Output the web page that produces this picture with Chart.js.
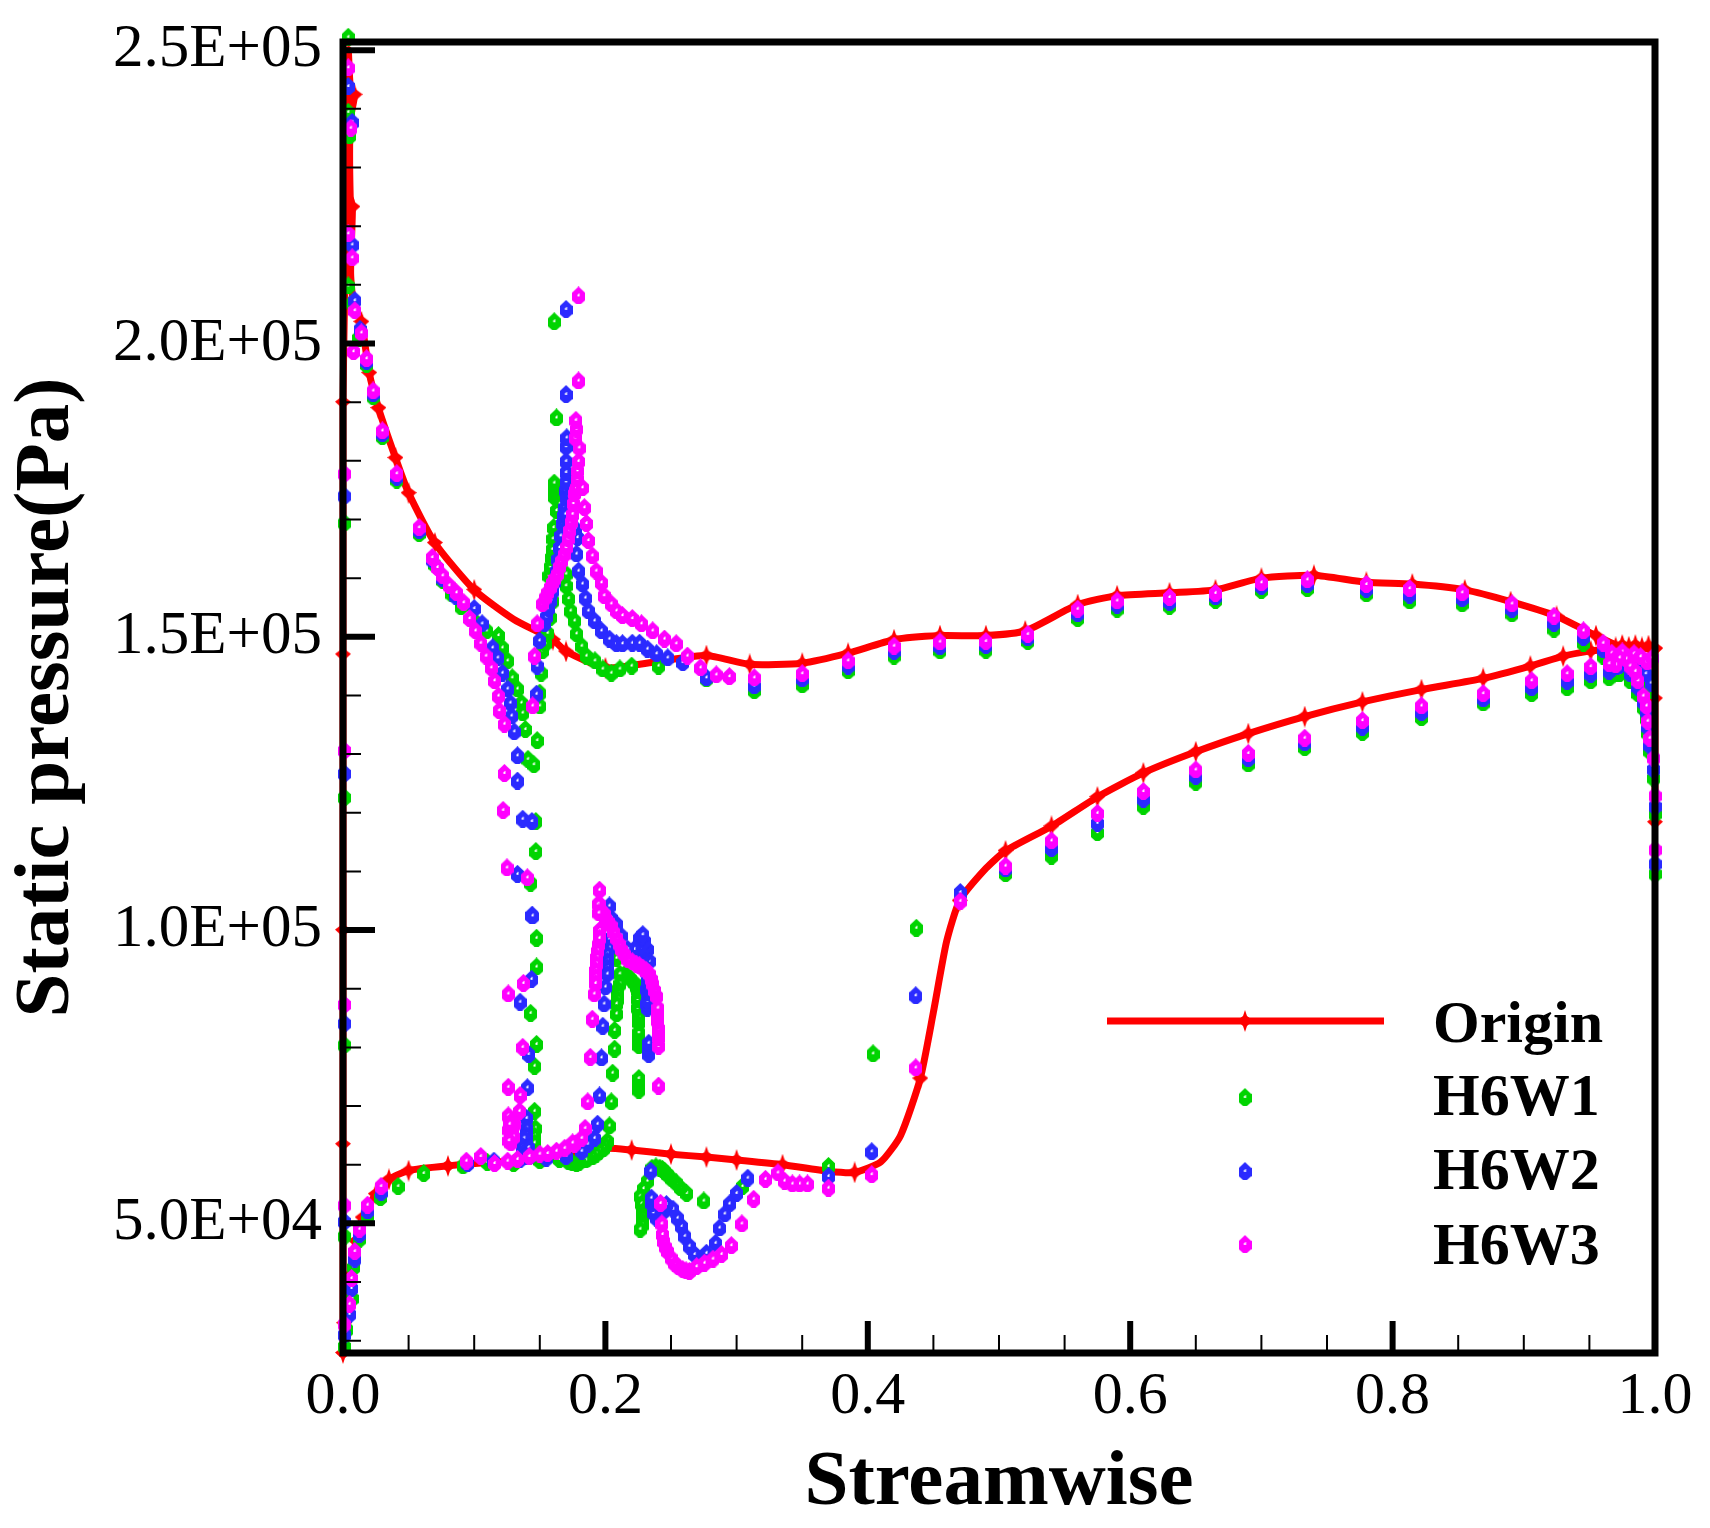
<!DOCTYPE html>
<html>
<head>
<meta charset="utf-8">
<title>Static pressure</title>
<script src="https://cdn.jsdelivr.net/npm/chart.js@4"></script>
<style>
html,body{margin:0;padding:0;background:#fff}
canvas{display:block}
</style>
</head>
<body>
<canvas id="chart" width="1710" height="1528"></canvas>
<script>
var xTicks = [0,0.2,0.4,0.6,0.8,1.0];
var xMinorTicks = [0.05,0.1,0.15,0.25,0.3,0.35,0.45,0.5,0.55,0.65,0.7,0.75,0.85,0.9,0.95];
var yTicks = [50000,100000,150000,200000,250000];
var yTickLabels = ["5.0E+04","1.0E+05","1.5E+05","2.0E+05","2.5E+05"];
var yMinorTicks = [30000,40000,60000,70000,80000,90000,110000,120000,130000,140000,160000,170000,180000,190000,210000,220000,230000,240000];
var seriesNames = ["Origin","H6W1","H6W2","H6W3"];

// [x, pressure, has marker]
var origin = [
[1,118400,1],[1,139500,1],[1,148000,1],[0.995,148500,1],[0.99,148200,1],[0.985,148600,1],[0.98,148300,1],[0.975,148600,1],[0.97,148200,1],[0.965,148000,1],[0.96,147800,0],[0.951,147600,1],[0.93,146700,1],[0.905,145000,1],
[0.869,142900,1],[0.822,141000,1],[0.777,138900,1],[0.733,136400,1],[0.69,133500,1],[0.65,130400,1],[0.61,126800,1],[0.575,122700,1],[0.54,117700,1],[0.505,113500,1],
[0.49,110500,0],[0.47,105000,1],[0.46,98000,0],[0.45,86000,0],[0.44,74700,1],[0.425,65000,0],[0.41,60500,0],[0.39,58700,1],[0.37,58900,0],[0.335,60000,1],
[0.3,60800,1],[0.277,61300,1],[0.25,61800,1],[0.22,62500,1],[0.2,62800,0],[0.16,61000,0],[0.12,60500,0],[0.08,59800,1],[0.05,59000,1],[0.035,57500,1],
[0.025,55000,1],[0.015,51000,1],[0.01,47000,1],[0.005,41000,1],[0.001,33000,1],[0,27900,1],[0,63500,1],[0,100000,1],[0,147000,1],[0,190000,1],
[0.001,205000,0],[0.004,250000,0],[0.0055,244000,0],[0.0088,242400,1],[0.0055,238000,0],[0.0055,225000,0],[0.0072,223300,1],[0.0058,212000,0],[0.008,207000,0],[0.014,203700,1],[0.02,195000,1],[0.027,189000,1],[0.04,180500,1],[0.05,174500,1],
[0.07,166000,1],[0.1,158000,1],[0.13,153000,0],[0.16,149500,1],[0.17,147500,1],[0.2,144700,1],[0.24,145800,1],[0.277,146800,1],[0.31,145300,1],[0.35,145500,1],
[0.385,147200,1],[0.42,149500,1],[0.455,150200,1],[0.49,150200,1],[0.52,151000,1],[0.56,155500,1],[0.59,157000,1],[0.63,157500,1],[0.665,158000,1],[0.7,160000,1],
[0.74,160500,1],[0.78,159300,1],[0.815,159000,1],[0.855,158000,1],[0.89,156000,1],[0.925,153500,1],[0.955,150200,1],[0.975,148200,1],[1,148000,1]
];

var h6w1 = [
[0.004,252300],[0.004,239500],[0.005,235500],[0.004,209900],[0.007,207000],[0.012,201000],[0.018,196500],[0.023,191000],[0.03,184200],[0.041,176800],[0.058,167700],
[0.07,162400],[0.076,159700],[0.083,157400],[0.09,155200],[0.1,152800],[0.1095,151100],[0.1185,150300],[0.1215,148200],[0.1255,146000],[0.129,143100],[0.133,141200],[0.136,138800],[0.137,137100],[0.139,134300],[0.141,129200],[0.148,132400],[0.1455,128300],[0.147,118600],[0.147,113500],
[0.143,108100],[0.1475,98700],[0.1475,93800],[0.143,85900],[0.1475,80600],[0.146,76900],[0.146,69200],[0.1465,66300],[0.146,65000],[0.146,63800],
[0.15,138300],[0.15,140500],[0.151,143900],[0.152,147700],[0.154,148900],[0.156,150700],[0.158,153400],[0.16,156200],[0.157,160500],[0.158,162000],[0.159,163600],[0.1595,165000],[0.16,166800],[0.1605,168700],[0.1627,171600],[0.161,174000],[0.161,175100],[0.161,176300],[0.1627,187400],[0.161,203800],
[0.17,160800],[0.17,158800],[0.172,156600],[0.1735,154500],[0.1765,152800],[0.178,150600],[0.182,148500],[0.1855,146800],[0.192,146000],[0.198,144600],[0.2045,143900],[0.211,144600],[0.22,145100],[0.2405,145100],[0.277,142900],[0.3135,140900],
[0.35,141900],[0.385,144300],[0.42,146800],[0.455,147700],[0.49,147800],[0.522,149300],[0.56,153200],[0.59,154800],[0.63,155300],[0.665,156300],[0.7,158000],[0.735,158300],[0.78,157400],[0.813,156200],[0.853,155700],[0.891,154000],[0.923,151400],[0.9455,149000],[0.9605,146800],
[0.971,143800],[0.976,144800],[0.981,142600],[0.983,144400],[0.987,140400],[0.989,143000],[0.991,138000],[0.993,142600],[0.9935,136100],[0.9945,133700],[0.996,130600],[0.997,141000],[0.999,126000],[1,119900],[1,109700],
[0.973,143800],[0.965,143100],[0.951,142600],[0.933,141400],[0.906,140400],[0.869,138800],[0.822,136300],[0.777,133800],[0.733,131200],[0.69,128400],[0.65,125300],[0.61,121200],[0.575,116700],[0.54,112700],[0.505,109700],[0.4705,106000],[0.437,100400],[0.404,79000],[0.37,59800],
[0.3045,56400],[0.275,53900],[0.262,55200],[0.257,56200],[0.254,57000],[0.2505,57700],[0.2475,58400],[0.245,59000],[0.2435,59300],[0.2415,59500],[0.2385,59700],[0.2355,59500],[0.232,57300],[0.229,56000],[0.2265,54700],[0.2275,53400],[0.2285,52100],[0.2285,51300],[0.2285,50400],[0.228,49800],[0.2265,49100],
[0.2255,72800],[0.2255,73800],[0.2255,74800],[0.2255,80400],[0.2255,81500],[0.2255,82600],[0.2255,84300],[0.2255,85400],[0.2245,86800],[0.2245,88300],[0.2245,89700],[0.2235,90400],[0.222,91100],[0.2195,91700],[0.217,92300],[0.2145,92500],[0.211,92600],[0.2085,95300],
[0.211,90900],[0.2095,90000],[0.2095,89200],[0.2095,88300],[0.2085,87500],[0.2085,85800],[0.207,83000],[0.207,79800],[0.2055,75700],[0.2045,70800],[0.203,66700],[0.2015,64100],[0.2,63400],[0.1985,62800],[0.1955,62400],[0.193,61900],[0.19,61400],[0.1865,61200],[0.185,60900],[0.18,60500],[0.178,60300],[0.175,60400],[0.172,60600],[0.165,61000],[0.15,60800],[0.13,60300],[0.11,60500],[0.0915,59900],[0.0615,58600],[0.042,56400],
[0.0285,54500],[0.0187,51300],[0.0125,47400],[0.008,42600],[0.007,37300],[0.003,32000],[0.001,47900],[0.001,29100],[0.001,80500],[0.001,122700],[0.001,169500]
];

var h6w2 = [
[0.004,243900],[0.007,237800],[0.007,216900],[0.009,207400],[0.013,202500],[0.018,197000],[0.023,191500],[0.03,184700],[0.041,177300],[0.058,168200],
[0.068,163200],[0.076,160000],[0.086,157000],[0.1,154900],[0.106,152300],[0.114,148200],[0.118,146500],[0.1215,143900],[0.1255,141200],[0.1275,138800],[0.1285,136600],[0.1305,133900],[0.133,129800],[0.133,125500],[0.137,119000],[0.144,118600],[0.144,102600],
[0.133,109600],[0.1445,102500],[0.1437,91700],[0.135,87800],[0.1415,78900],[0.1405,73200],[0.14,68000],[0.14,66300],[0.1395,65200],[0.14,64000],[0.138,64600],[0.1385,62800],[0.137,63200],[0.1415,63000],[0.1365,62000],[0.139,61500],[0.142,61500],
[0.1475,140300],[0.148,145100],[0.1497,149400],[0.1535,152300],[0.155,153500],[0.1565,154900],[0.1585,156300],[0.16,157900],[0.1615,159500],[0.1627,161300],[0.1638,163300],[0.165,165300],[0.166,167300],[0.1673,169400],[0.168,170700],[0.169,172100],[0.1695,171000],[0.1695,175000],[0.17,173800],[0.17,176500],[0.17,178100],[0.17,180000],[0.17,182500],[0.1705,184000],[0.17,191400],[0.17,205900],
[0.1725,174000],[0.175,171000],[0.177,168500],[0.1787,167000],[0.178,164200],[0.1795,161300],[0.1825,159100],[0.1847,156700],[0.187,154500],[0.1917,152800],[0.197,151100],[0.203,149700],[0.2085,148900],[0.213,148900],[0.2205,149000],[0.226,149000],[0.232,148000],[0.239,147200],[0.2475,146500],[0.259,145700],[0.277,143100],[0.3135,141700],
[0.35,142900],[0.385,145100],[0.42,147600],[0.455,148400],[0.49,148600],[0.522,149900],[0.56,154000],[0.59,155500],[0.63,156000],[0.665,156900],[0.7,158700],[0.735,159000],[0.78,158200],[0.813,157200],[0.853,156600],[0.891,154800],[0.923,152400],[0.9455,150000],[0.9605,147900],
[0.971,145000],[0.976,146000],[0.981,143800],[0.983,145500],[0.987,141500],[0.989,144200],[0.991,139000],[0.993,143800],[0.9935,137300],[0.9945,134700],[0.996,131600],[0.997,142200],[0.999,127500],[1,121200],[1,111400],
[0.973,145200],[0.965,144200],[0.951,143700],[0.933,142500],[0.906,141400],[0.869,139500],[0.822,137200],[0.777,134700],[0.733,132000],[0.69,129300],[0.65,126300],[0.61,122400],[0.575,118300],[0.54,114000],[0.505,110500],[0.4705,106500],[0.4365,88900],[0.403,62300],[0.37,58100],
[0.3085,57800],[0.3,55200],[0.2945,53400],[0.291,51700],[0.287,49300],[0.284,46700],[0.277,45000],[0.268,44800],[0.264,46200],[0.2605,47900],[0.258,49600],[0.255,51000],[0.2515,52500],[0.2465,53300],[0.2435,52000],[0.2415,51300],[0.239,51000],[0.2375,52700],[0.2365,51900],[0.2355,53500],[0.235,54400],[0.2345,59000],
[0.233,78900],[0.233,79800],[0.233,80800],[0.232,86800],[0.2315,87500],[0.232,88000],[0.232,89500],[0.2315,90000],[0.232,91400],[0.231,93000],[0.2295,94000],[0.2335,94800],[0.2285,95000],[0.2305,96000],[0.2255,96500],[0.232,96800],[0.2295,97000],[0.2265,97000],[0.2298,98200],[0.226,98700],[0.2275,99000],[0.2285,99300],[0.222,96800],[0.217,96800],[0.212,99100],[0.2085,101100],[0.2045,102100],[0.203,104200],
[0.203,98500],[0.203,97000],[0.2015,96000],[0.2015,94800],[0.2015,93700],[0.2015,92600],[0.2,90400],[0.199,87500],[0.198,83700],[0.197,78300],[0.1955,71800],[0.194,67000],[0.1917,64600],[0.1865,63600],[0.182,62400],[0.17,61500],[0.155,61200],[0.135,61000],[0.115,60700],[0.095,60300],
[0.029,55400],[0.0187,52200],[0.0125,48200],[0.009,44000],[0.0065,39000],[0.005,34600],[0.001,50400],[0.001,31100],[0.001,84200],[0.001,126800],[0.001,174100]
];

var h6w3 = [
[0.004,247100],[0.006,236800],[0.004,218800],[0.007,214700],[0.009,205700],[0.014,201900],[0.008,198700],[0.018,197500],[0.023,192000],[0.03,185200],[0.041,177900],[0.058,168700],
[0.068,163600],[0.072,161900],[0.076,160500],[0.081,158800],[0.0865,157600],[0.092,155900],[0.0965,153200],[0.101,151100],[0.105,149000],[0.109,146800],[0.113,144800],[0.1155,142600],[0.1185,140000],[0.119,137500],[0.123,135200],[0.123,126800],[0.122,120500],[0.125,110700],[0.1405,109000],[0.1375,91000],[0.126,89200],[0.137,80100],[0.126,73300],[0.135,71900],[0.1345,69200],[0.126,68400],[0.127,66300],[0.131,67000],[0.128,65300],
[0.1265,66000],[0.1275,64800],[0.129,65800],[0.1285,67500],[0.127,67000],[0.13,64800],[0.128,63800],[0.1265,64200],
[0.1445,138300],[0.146,146800],[0.148,152300],[0.152,155700],[0.154,156700],[0.156,157600],[0.158,158500],[0.1597,159300],[0.1615,160000],[0.1635,160800],[0.165,162000],[0.1665,163000],[0.1685,164100],[0.17,165300],[0.1715,166800],[0.1727,168200],[0.1738,169600],[0.175,171000],[0.1755,172800],[0.1765,174500],[0.177,175000],[0.178,175500],[0.1785,177000],[0.1787,178400],[0.1795,180000],[0.18,182300],[0.177,184000],[0.178,185500],[0.1775,187000],[0.1795,193700],[0.1795,208200],
[0.1825,175500],[0.184,172100],[0.1855,169400],[0.187,166500],[0.19,163900],[0.193,161300],[0.197,159300],[0.199,157100],[0.2045,155700],[0.2085,154500],[0.213,153700],[0.2205,153200],[0.2275,152300],[0.236,151100],[0.245,149700],[0.254,148900],[0.2625,146800],[0.2725,144800],[0.2845,143600],[0.2945,143300],[0.3135,143100],
[0.35,143800],[0.385,146000],[0.42,148500],[0.455,149200],[0.49,149300],[0.522,150500],[0.56,154800],[0.59,156200],[0.63,156800],[0.665,157500],[0.7,159300],[0.735,159800],[0.78,159000],[0.813,158300],[0.853,157600],[0.891,155700],[0.923,153600],[0.9455,151100],[0.9605,149000],
[0.967,147300],[0.971,146600],[0.975,147500],[0.978,146300],[0.981,145100],[0.984,147200],[0.987,142600],[0.989,146700],[0.991,140000],[0.994,145800],[0.9935,138300],[0.9945,135700],[0.996,132800],[0.998,146500],[0.999,129400],[1,123000],[1,113800],
[0.973,146500],[0.97,145300],[0.985,144200],[0.965,145500],[0.951,145000],[0.933,143800],[0.906,142600],[0.869,140400],[0.822,138300],[0.777,135800],[0.733,132800],[0.69,130200],[0.65,127400],[0.61,123700],[0.575,120000],[0.54,115300],[0.505,111000],[0.4705,105000],[0.4365,76600],[0.403,58400],[0.37,56100],
[0.354,56800],[0.348,56800],[0.3425,56800],[0.3365,57300],[0.3315,58700],[0.322,57600],[0.313,54200],[0.304,50000],[0.296,46300],[0.2885,44800],[0.282,44000],[0.2755,43300],[0.2695,42700],[0.264,41900],[0.2615,42000],[0.259,42200],[0.2555,42700],[0.2525,43300],[0.25,44200],[0.2475,45300],[0.2455,46100],[0.2445,47000],[0.2435,48200],[0.243,50000],[0.242,53500],
[0.2405,73500],[0.2405,80300],[0.2405,81700],[0.2405,82500],[0.2405,83300],[0.24,84600],[0.24,85700],[0.24,86800],[0.239,88800],[0.2375,89800],[0.236,90900],[0.235,91700],[0.2335,92600],[0.231,93200],[0.2285,93600],[0.226,94000],[0.2235,94300],[0.2205,94700],[0.217,95100],[0.2145,96000],[0.212,96800],[0.2105,97700],[0.2085,98700],[0.2065,99700],[0.2045,100800],[0.202,101500],[0.2,102100],[0.1995,102800],[0.197,103300],[0.1955,104500],[0.1945,104500],[0.195,103000],[0.1955,106900],
[0.1955,100000],[0.1945,97600],[0.1955,98700],[0.194,96500],[0.1935,95400],[0.193,94300],[0.1925,93200],[0.1925,92100],[0.1925,91000],[0.1915,89200],[0.19,84900],[0.1885,78400],[0.1865,70800],[0.1845,66300],[0.182,64600],[0.1765,63600],[0.175,63800],[0.169,62900],[0.1627,62400],[0.156,62000],[0.15,61900],[0.142,61500],[0.133,61000],[0.1255,60700],[0.1155,60300],[0.105,61500],[0.094,60700],
[0.029,56400],[0.0187,53200],[0.0125,49100],[0.009,45300],[0.0065,40700],[0.005,36300],[0.001,53200],[0.001,32900],[0.001,87400],[0.001,130700],[0.001,177900]
];

var seriesColors = ["#ff0000","#00d400","#2a2aff","#ff00ff"];

function makeMarker(color, filled){
  var c = document.createElement("canvas");
  var w = filled ? 16 : 13, h = filled ? 22 : 18;
  c.width = w; c.height = h;
  var g = c.getContext("2d");
  g.fillStyle = color;
  g.beginPath();
  if (filled){
    g.moveTo(w/2,0); g.lineTo(w/2+2,6); g.lineTo(w,h*0.48); g.lineTo(w/2+2,h-6); g.lineTo(w/2,h);
    g.lineTo(w/2-2,h-6); g.lineTo(0,h*0.48); g.lineTo(w/2-2,6);
  } else {
    g.moveTo(w/2,0); g.lineTo(w/2+2,2); g.lineTo(w,h*0.35); g.lineTo(w,h*0.78); g.lineTo(w/2+2,h); g.lineTo(w/2-2,h);
    g.lineTo(0,h*0.78); g.lineTo(0,h*0.35); g.lineTo(w/2-2,2);
  }
  g.closePath(); g.fill();
  if (!filled){ g.fillStyle = "#fff"; g.fillRect(w/2-1,h/2-1,2,2); g.fillRect(w/2,h/2-2,1,1); }
  return c;
}
var markers = seriesColors.map(function(col,i){ return makeMarker(col, i===0); });

function pts(rows){ return rows.map(function(r){ return {x:r[0], y:r[1]}; }); }

// inward ticks, frame and the legend go on top of the marks
var framePlugin = {
  id:"frame",
  afterDatasetsDraw:function(chart){
    var c = chart.ctx, a = chart.chartArea, xs = chart.scales.x, ys = chart.scales.y;
    c.save();
    c.strokeStyle = "#000";
    c.lineWidth = 2;
    c.beginPath();
    xMinorTicks.forEach(function(v){ var p = xs.getPixelForValue(v); c.moveTo(p,a.bottom); c.lineTo(p,a.bottom-18); });
    yMinorTicks.forEach(function(v){ var p = ys.getPixelForValue(v); c.moveTo(a.left,p); c.lineTo(a.left+18,p); });
    c.stroke();
    c.lineWidth = 6;
    c.beginPath();
    xTicks.forEach(function(v){ var p = xs.getPixelForValue(v); c.moveTo(p,a.bottom); c.lineTo(p,a.bottom-32); });
    yTicks.forEach(function(v){ var p = ys.getPixelForValue(v); c.moveTo(a.left,p); c.lineTo(a.left+32,p); });
    c.stroke();
    c.lineWidth = 7;
    c.strokeRect(a.left,a.top,a.right-a.left,a.bottom-a.top);

    // legend
    var rows = [1021,1097,1171,1244];
    var base = [1042,1115,1189,1264];
    c.fillStyle = "#000";
    c.font = "bold 60px 'Liberation Serif'";
    c.textBaseline = "alphabetic";
    seriesNames.forEach(function(name,i){
      if (i===0){
        c.strokeStyle = seriesColors[0]; c.lineWidth = 7;
        c.beginPath(); c.moveTo(1107,rows[0]); c.lineTo(1384,rows[0]); c.stroke();
      }
      c.drawImage(markers[i],1245-markers[i].width/2,rows[i]-markers[i].height/2);
      c.fillText(name,1433,base[i]);
    });
    c.restore();
  }
};

new Chart(document.getElementById("chart"), {
  type:"scatter",
  data:{ datasets:[
    { label:seriesNames[0], data:pts(origin), showLine:true, borderColor:seriesColors[0], borderWidth:7, tension:0.2, clip:false, order:4,
      pointStyle:markers[0], pointRadius:function(ctx){ var r = origin[ctx.dataIndex]; return r && r[2] ? 6 : 0; } },
    { label:seriesNames[1], data:pts(h6w1), showLine:false, clip:false, order:3, pointStyle:markers[1], pointRadius:6 },
    { label:seriesNames[2], data:pts(h6w2), showLine:false, clip:false, order:2, pointStyle:markers[2], pointRadius:6 },
    { label:seriesNames[3], data:pts(h6w3), showLine:false, clip:false, order:1, pointStyle:markers[3], pointRadius:6 }
  ]},
  options:{
    responsive:false, devicePixelRatio:1, animation:false,
    layout:{ padding:{ top:42, right:55, left:0, bottom:0 } },
    plugins:{ legend:{display:false}, tooltip:{enabled:false}, title:{display:false} },
    scales:{
      x:{
        type:"linear", min:0, max:1,
        grid:{display:false, drawTicks:false}, border:{display:false},
        afterBuildTicks:function(s){ s.ticks = xTicks.map(function(v){ return {value:v}; }); },
        afterFit:function(s){ s.height = 175; },
        ticks:{ autoSkip:false, maxRotation:0, padding:8, color:"#000", font:{family:"'Liberation Serif'", size:60},
          callback:function(v){ return Number(v).toFixed(1); } },
        title:{ display:true, text:"Streamwise", color:"#000", padding:{top:8,bottom:-3},
          font:{family:"'Liberation Serif'", size:79, weight:"bold"} }
      },
      y:{
        type:"linear", min:27900, max:251400,
        grid:{display:false, drawTicks:false}, border:{display:false},
        afterBuildTicks:function(s){ s.ticks = yTicks.map(function(v){ return {value:v}; }); },
        afterFit:function(s){ s.width = 343; s.paddingTop = 0; s.paddingBottom = 0; },
        ticks:{ autoSkip:false, padding:21, color:"#000", font:{family:"'Liberation Serif'", size:61},
          callback:function(v){ return yTickLabels[yTicks.indexOf(v)]; } },
        title:{ display:true, text:"Static pressure(Pa)", color:"#000", padding:{top:0,bottom:0},
          font:{family:"'Liberation Serif'", size:79, weight:"bold"} }
      }
    }
  },
  plugins:[framePlugin]
});
</script>
</body>
</html>
